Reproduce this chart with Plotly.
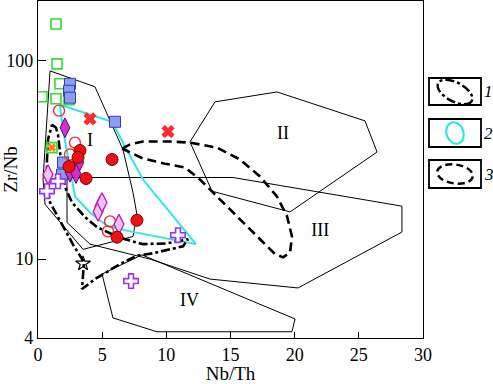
import math
import plotly.graph_objects as go

# ---------------- field polygons (Nb/Th, Zr/Nb) ----------------
field_I_x = [0.94, 4.44, 6.62, 7.40, 7.71, 7.40, 3.51, 0.55, 0.39, 0.94]
field_I_y = [89, 74, 35.7, 21.7, 16.8, 13.0, 11.2, 18.9, 25.2, 89]

field_II_x = [11.84, 13.79, 18.62, 25.48, 26.42, 19.64, 13.56, 11.84]
field_II_y = [39.0, 62.1, 69.7, 49.8, 34.7, 17.3, 22.0, 39.0]

field_III_x = [2.26, 15.19, 28.36, 28.36, 20.26, 13.40, 8.73, 4.05, 2.26, 2.26]
field_III_y = [25.8, 25.8, 18.5, 13.7, 7.15, 7.93, 10.0, 11.9, 15.3, 25.8]

field_IV_x = [4.99, 8.10, 20.03, 19.79, 9.27, 5.84, 4.99]
field_IV_y = [8.41, 10.5, 4.99, 4.30, 4.30, 5.05, 8.41]

# contour 1 (dash-dot)
c1_x = [1.09, 1.40, 1.56, 1.71, 1.87, 2.18, 2.65, 3.66, 4.60, 5.61, 6.78, 8.18, 10.05, 11.69,
        11.30, 8.96, 7.71, 6.39, 4.44, 3.43, 3.51, 3.58, 2.81, 1.79, 0.94, 0.70, 0.70, 0.78, 1.09]
c1_y = [47.7, 46.0, 42.4, 35.7, 28.3, 22.5, 19.3, 16.3, 14.5, 13.5, 12.6, 11.9, 12.0, 12.6,
        11.6, 10.7, 10.4, 9.44, 7.93, 7.06, 8.22, 9.66, 11.6, 15.3, 19.3, 23.8, 31.8, 40.1, 47.7]

# contour 2 (cyan)
c2_x = [1.71, 5.77, 6.78, 8.18, 12.31, 7.17, 5.38, 4.05, 2.88, 2.49, 1.95, 1.71]
c2_y = [60.1, 49.3, 37.0, 25.2, 11.9, 13.8, 14.7, 17.2, 20.7, 28.3, 45.0, 60.1]

# contour 3 (dashed)
c3_x = [6.55, 7.17, 8.18, 10.29, 11.84, 13.95, 15.74, 17.30, 18.62, 19.40, 19.79, 19.64, 19.09,
        18.47, 17.30, 15.74, 13.95, 12.62, 11.45, 9.90, 8.18, 6.94, 6.55]
c3_y = [36.1, 37.9, 39.2, 39.2, 38.7, 36.5, 31.8, 26.1, 20.7, 16.5, 13.0, 10.8, 10.2,
        10.6, 12.6, 15.9, 20.7, 25.2, 29.0, 30.3, 32.2, 34.9, 36.1]

# ---------------- samples ----------------
green_sq_x = [1.40, 1.48, 1.71, 0.31, 1.40, 2.42, 1.09]
green_sq_y = [153.5, 96.6, 76.6, 65.9, 64.4, 63.7, 36.5]

blue_sq_x = [2.49, 2.42, 2.49, 6.00, 1.87, 1.95]
blue_sq_y = [76.6, 70.6, 65.2, 49.3, 26.7, 30.7]

red_dot_x = [3.27, 3.12, 5.77, 2.42, 3.74, 7.71, 6.16]
red_dot_y = [35.3, 32.6, 31.8, 29.3, 25.5, 15.7, 12.9]

red_ring_x = [1.64, 2.88, 5.61, 5.45, 2.49]
red_ring_y = [56.1, 38.7, 15.5, 13.8, 33.7]

mag_dia_x = [2.10, 2.88, 3.19, 2.49, 2.96]
mag_dia_y = [46.0, 29.3, 30.7, 27.4, 27.0]

pink_dia_x = [4.83, 4.68, 4.99, 6.31, 0.78]
pink_dia_y = [18.5, 17.4, 19.3, 15.0, 26.7]

cross_x = [0.70, 1.56, 10.91, 7.25]
cross_y = [22.0, 24.7, 13.2, 7.75]

red_x_x = [4.05, 10.13]
red_x_y = [51.0, 44.0]

orange_x_x = [1.09]
orange_x_y = [36.5]

star_x = [3.51]
star_y = [9.5]

label_text = ["I", "II", "III", "IV"]
label_x = [4.05, 19.1, 22.0, 11.8]
label_y = [39.0, 42.4, 13.8, 6.1]

x_ticks = [0, 5, 10, 15, 20, 25, 30]
y_ticks = [4, 10, 100]
y_minor = [5, 6, 7, 8, 9, 20, 30, 40, 50, 60, 70, 80, 90]

legend_labels = ["1", "2", "3"]

SERIF = "Liberation Serif, Times New Roman, serif"

fig = go.Figure()

def outline(x, y, color="black", width=1, dash="solid"):
    fig.add_trace(go.Scatter(x=x, y=y, mode="lines",
                             line=dict(color=color, width=width, dash=dash),
                             hoverinfo="skip", showlegend=False))

outline(field_I_x, field_I_y)
outline(field_II_x, field_II_y)
outline(field_III_x, field_III_y)
outline(field_IV_x, field_IV_y)
outline(c2_x, c2_y, color="#2ee6e6", width=2)
outline(c1_x, c1_y, width=2.6, dash="dashdot")
outline(c3_x, c3_y, width=2.6, dash="9px,5px")

def pts(x, y, symbol, size, fill, line_color, lw=1):
    fig.add_trace(go.Scatter(x=x, y=y, mode="markers",
                             marker=dict(symbol=symbol, size=size, color=fill,
                                         line=dict(color=line_color, width=lw)),
                             showlegend=False))

pts(green_sq_x, green_sq_y, "square", 10, "rgba(255,255,255,0)", "#33dd33", 1.6)
pts(orange_x_x, orange_x_y, "x", 7, "#ff8800", "#ff5500", 0.5)
pts(blue_sq_x, blue_sq_y, "square", 11, "#8c9cf2", "#2e3fa8", 1)
pts(red_ring_x, red_ring_y, "circle", 11, "rgba(255,255,255,0)", "#e83030", 1.4)
pts(pink_dia_x, pink_dia_y, "diamond-tall", 14, "#f2c4f2", "#c020c0", 1.4)
pts(mag_dia_x, mag_dia_y, "diamond-tall", 14, "#cc33cc", "#6a006a", 1)
pts(red_dot_x, red_dot_y, "circle", 12, "#ee1111", "#7a0000", 1)
pts(cross_x, cross_y, "cross", 12, "white", "#9933ee", 1.6)
pts(red_x_x, red_x_y, "x", 11, "#ff2a2a", "#dd0000", 0.5)
pts(star_x, star_y, "star-open", 11, "black", "black", 1.2)

fig.add_trace(go.Scatter(x=label_x, y=label_y, mode="text", text=label_text,
                         textfont=dict(family=SERIF, size=18, color="black"),
                         hoverinfo="skip", showlegend=False))

# ---------------- layout geometry ----------------
L, R, T, B, W, H = 38, 70, 1, 46, 493, 384
PW, PH = W - L - R, H - T - B

# minor y ticks drawn as short inward strokes on the left frame
for v in y_minor:
    fig.add_shape(type="line", xref="paper", yref="y", x0=0, x1=5 / PW,
                  y0=math.log10(v), y1=math.log10(v), line=dict(color="black", width=1))

def px2paper(px, py):
    return (px - L) / PW, (H - B - py) / PH

def ellipse_path(cx, cy, a, b, ang_deg):
    """Closed cubic-Bezier ellipse (pixel geometry) expressed in paper coords."""
    t = math.radians(ang_deg)
    ax, ay = a * math.cos(t), a * math.sin(t)
    bx, by = -b * math.sin(t), b * math.cos(t)
    k = 0.5523
    axes = [(ax, ay), (bx, by), (-ax, -ay), (-bx, -by), (ax, ay)]
    P = lambda vx, vy: px2paper(cx + vx, cy + vy)
    d = "M%.5f,%.5f" % P(*axes[0])
    for i in range(4):
        u = axes[i]; v = axes[i + 1]
        c1 = P(u[0] + k * v[0], u[1] + k * v[1])
        c2 = P(v[0] + k * u[0], v[1] + k * u[1])
        e = P(*v)
        d += " C%.5f,%.5f %.5f,%.5f %.5f,%.5f" % (c1 + c2 + e)
    return d + " Z"

boxes_px = [(78, 105), (119, 147), (160, 188)]
icons = [
    dict(cx=455, cy=92, a=19, b=9.5, ang=28, color="black", width=2.4, dash="dashdot"),
    dict(cx=455, cy=133, a=11, b=8.5, ang=70, color="#2ee6e6", width=2.2, dash="solid"),
    dict(cx=455, cy=174, a=18, b=9.5, ang=8, color="black", width=2.4, dash="7px,4px"),
]
for i, (top, bot) in enumerate(boxes_px):
    x0, y0 = px2paper(429, bot)
    x1, y1 = px2paper(481, top)
    fig.add_shape(type="rect", xref="paper", yref="paper", x0=x0, x1=x1,
                  y0=y0, y1=y1, line=dict(color="black", width=1.8))
    ic = icons[i]
    fig.add_shape(type="path", xref="paper", yref="paper",
                  path=ellipse_path(ic["cx"], ic["cy"], ic["a"], ic["b"], ic["ang"]),
                  line=dict(color=ic["color"], width=ic["width"], dash=ic["dash"]))
    lx, ly = px2paper(482, (top + bot) / 2)
    fig.add_annotation(xref="paper", yref="paper", x=lx, y=ly, xanchor="left",
                       yanchor="middle", text="<i>%s</i>" % legend_labels[i], showarrow=False,
                       font=dict(family=SERIF, size=17, color="black"))

fig.update_layout(
    width=W, height=H,
    margin=dict(l=L, r=R, t=T, b=B, autoexpand=False),
    paper_bgcolor="white", plot_bgcolor="white",
    font=dict(family=SERIF, size=17, color="black"),
    showlegend=False,
)
fig.update_xaxes(range=[0, 30], tickvals=x_ticks,
                 ticks="inside", ticklen=6, tickcolor="black", automargin=False,
                 tickfont=dict(family=SERIF, size=18),
                 showline=True, linecolor="black", linewidth=1.2, mirror=True,
                 showgrid=False, zeroline=False,
                 title=dict(text="Nb/Th", font=dict(family=SERIF, size=19), standoff=0))
fig.update_yaxes(type="log", range=[0.602, 2.302], tickvals=y_ticks,
                 ticktext=[str(v) for v in y_ticks], automargin=False,
                 tickfont=dict(family=SERIF, size=18),
                 ticks="inside", ticklen=8, tickcolor="black",
                 showline=True, linecolor="black", linewidth=1.2, mirror=True,
                 showgrid=False, zeroline=False,
                 title=dict(text="Zr/Nb", font=dict(family=SERIF, size=19), standoff=0))

fig.write_html("out.html", config={"displayModeBar": False},
               post_script="document.body.style.margin='0';document.body.style.overflow='hidden';")
